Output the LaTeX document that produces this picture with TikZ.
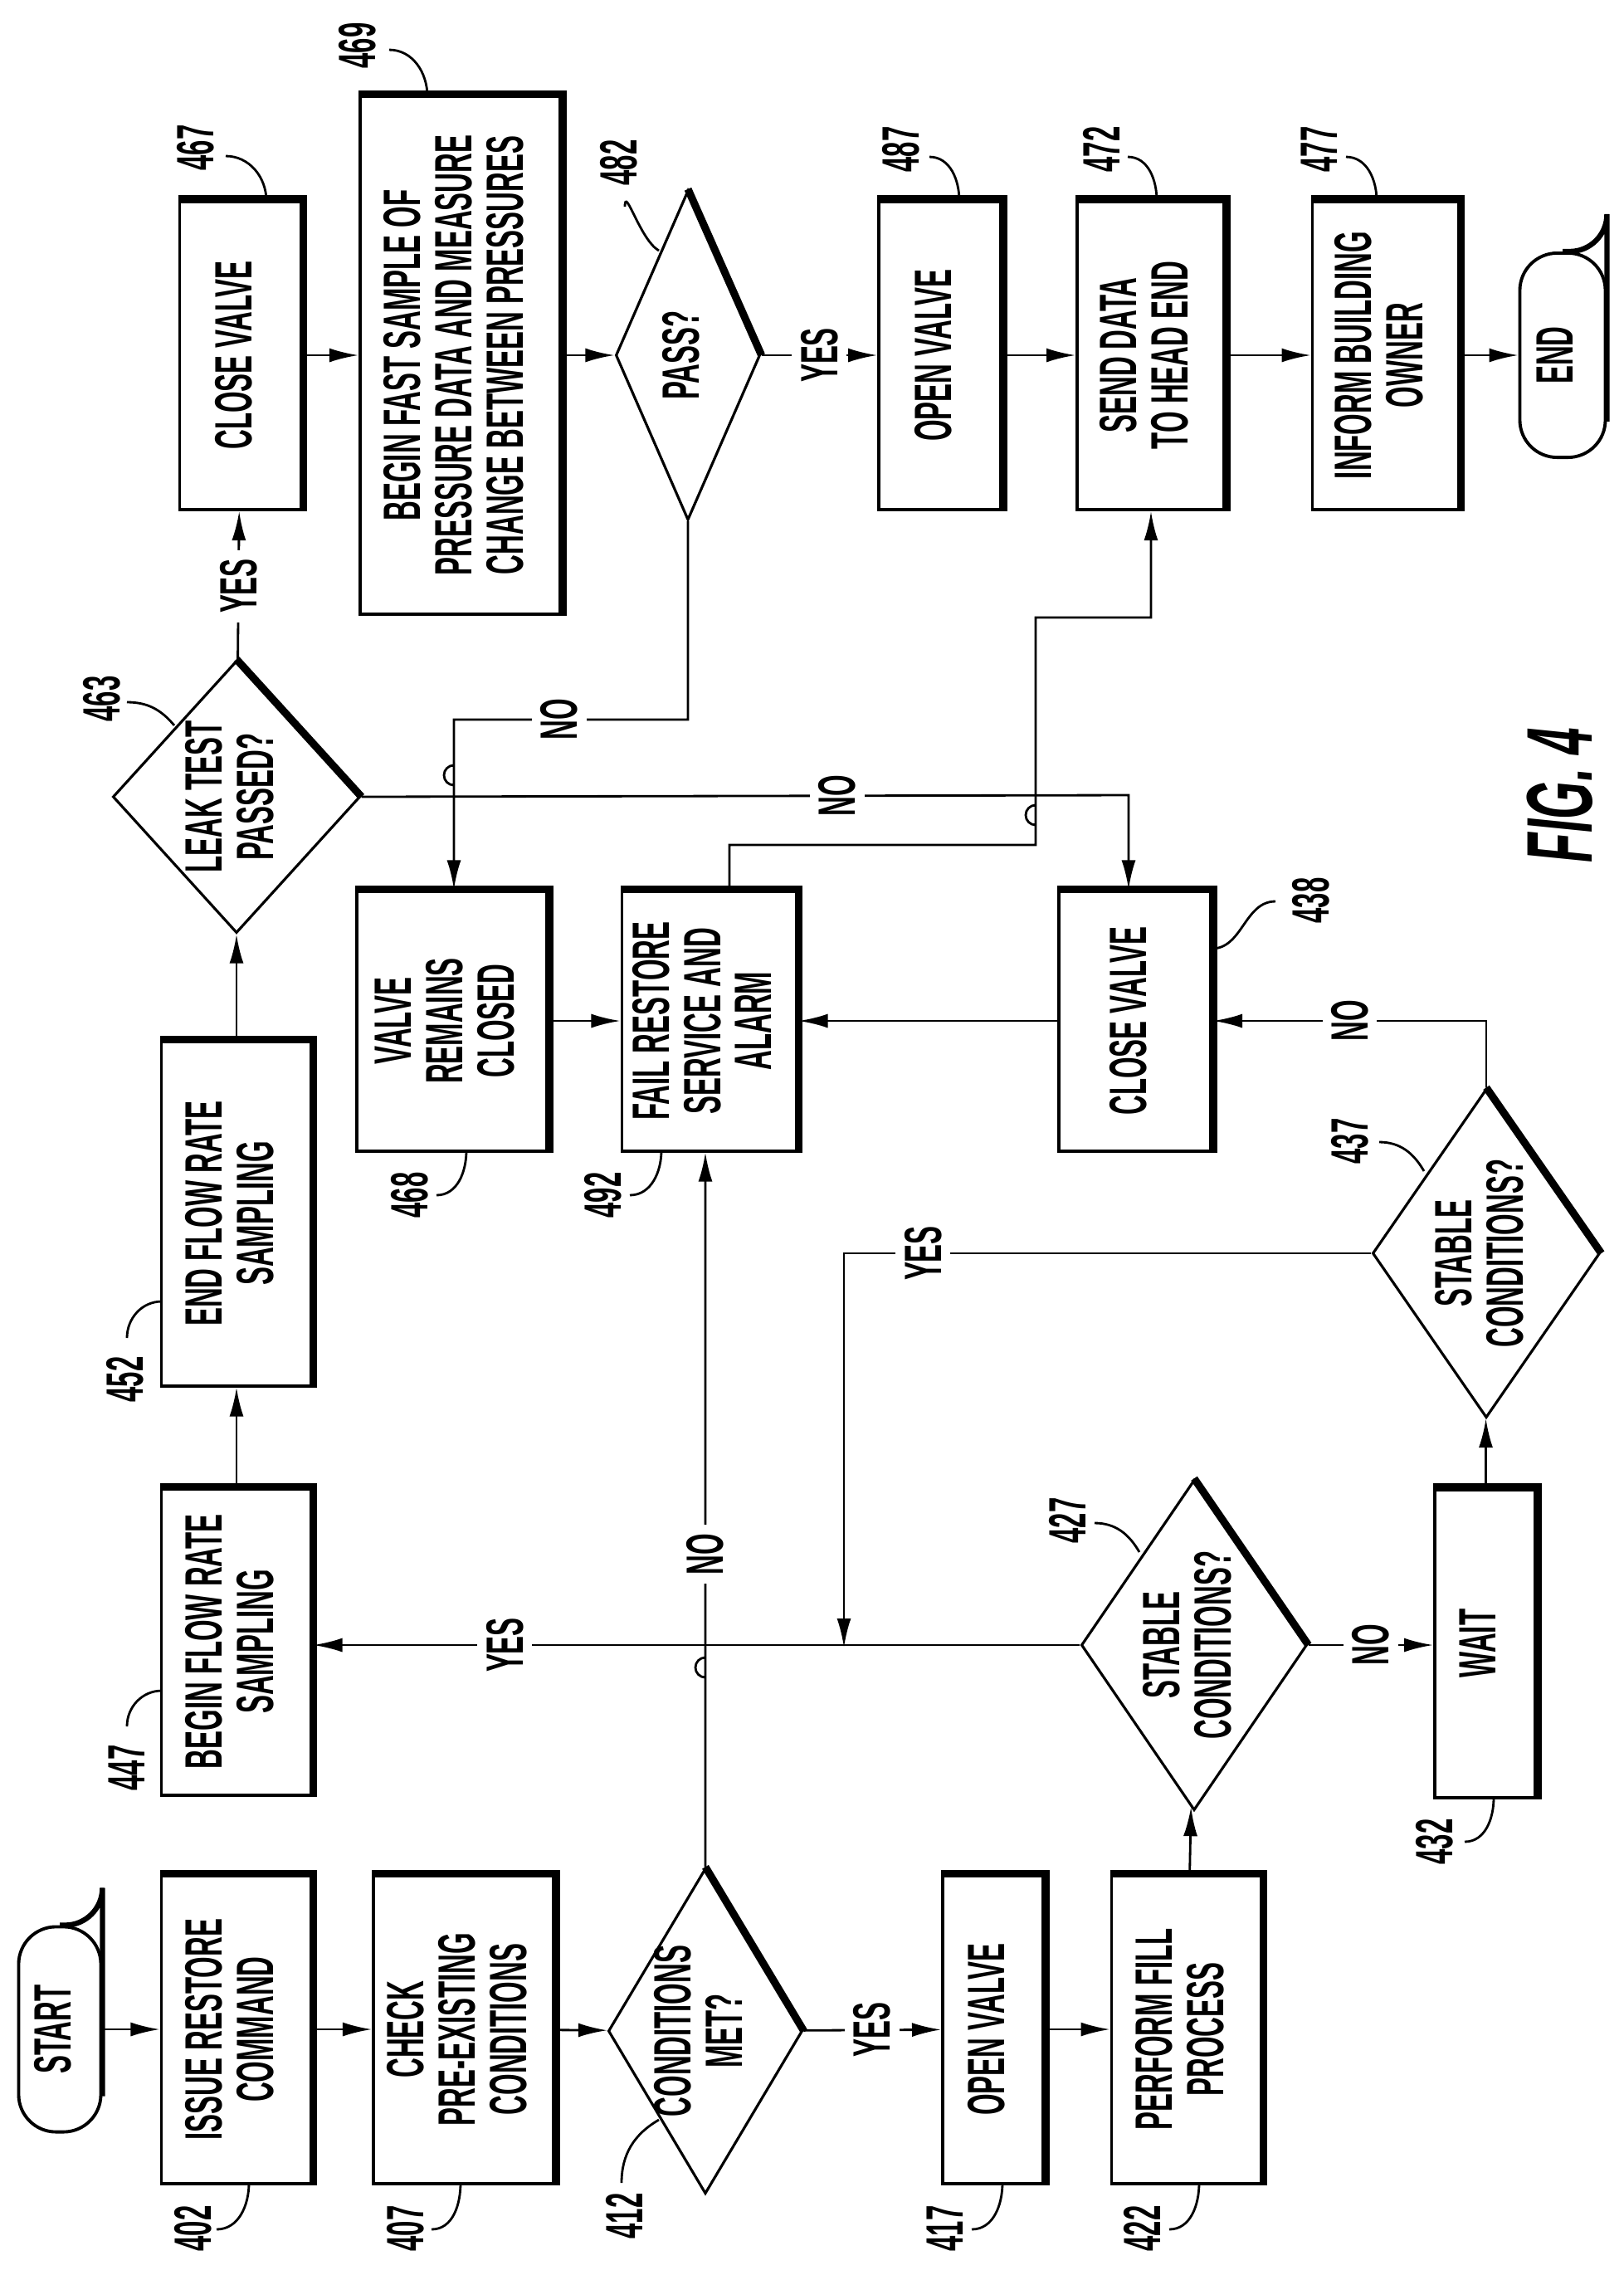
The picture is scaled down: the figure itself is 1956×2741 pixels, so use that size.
\documentclass[tikz,border=0pt]{standalone}
\usepackage{fontspec}
\setmainfont{Liberation Sans}[FakeStretch=0.52]
\usepackage{tikz}
\usetikzlibrary{shapes.geometric, arrows.meta}

\newcommand{\vtext}[1]{\rotatebox{90}{\begin{tabular}{@{}c@{}}#1\end{tabular}}}

\tikzset{
  txt/.style={font=\fontsize{18}{17}\selectfont\bfseries},
  box/.style={draw, line width=1.1pt, inner sep=0pt, txt},
  term/.style={box, rounded corners=0.45cm},
  dia/.style={draw, line width=0.9pt, diamond, inner sep=0pt},
  lbl/.style={txt, rotate=90, fill=white, inner sep=3pt},
  num/.style={txt, rotate=90, inner sep=0pt},
  flow/.style={line width=0.8pt, -{Latex[length=3.5mm,width=1.7mm]}},
  lead/.style={line width=0.8pt},
  heavy/.style={line width=2.6pt}
}

\begin{document}
\begin{tikzpicture}[x=0.01cm, y=-0.01cm]
    \useasboundingbox (0,0) rectangle (1956,2741);

    % Bottom row
    \node[term, minimum width=0.99cm, minimum height=2.47cm] (start) at (72,2445) {\vtext{START}};
    \node[box, minimum width=1.81cm, minimum height=3.71cm] (n402) at (285,2445) {\vtext{ISSUE RESTORE\\COMMAND}};
    \node[box, minimum width=2.18cm, minimum height=3.71cm] (n407) at (559,2445) {\vtext{CHECK\\PRE-EXISTING\\CONDITIONS}};
    \node[dia, minimum width=2.34cm, minimum height=3.92cm, label={[txt]center:\vtext{CONDITIONS\\MET?}}] (d412) at (850,2447) {};
    \node[box, minimum width=1.22cm, minimum height=3.71cm] (n417) at (1197,2445) {\vtext{OPEN VALVE}};
    \node[box, minimum width=1.81cm, minimum height=3.71cm] (n422) at (1430,2445) {\vtext{PERFORM FILL\\PROCESS}};
    \node[dia, minimum width=2.72cm, minimum height=3.98cm, label={[txt]center:\vtext{STABLE\\CONDITIONS?}}] (d427) at (1439,1982) {};
    \node[box, minimum width=1.22cm, minimum height=3.72cm] (n432) at (1790,1980) {\vtext{WAIT}};
    \node[dia, minimum width=2.74cm, minimum height=3.96cm, label={[txt]center:\vtext{STABLE\\CONDITIONS?}}] (d437) at (1791,1510) {};
    \node[box, minimum width=1.84cm, minimum height=3.13cm] (n438) at (1368,1230) {\vtext{CLOSE VALVE}};

    % Left column
    \node[box, minimum width=1.81cm, minimum height=3.69cm] (n447) at (285,1978) {\vtext{BEGIN FLOW RATE\\SAMPLING}};
    \node[box, minimum width=1.81cm, minimum height=4.15cm] (n452) at (285,1462) {\vtext{END FLOW RATE\\SAMPLING}};
    \node[dia, minimum width=2.98cm, minimum height=3.28cm, label={[txt]center:\vtext{LEAK TEST\\PASSED?}}] (d463) at (285,960) {};

    % Top row
    \node[box, minimum width=1.47cm, minimum height=3.72cm] (n467) at (290,428) {\vtext{CLOSE VALVE}};
    \node[box, minimum width=2.42cm, minimum height=6.24cm] (n469) at (555,428) {\vtext{BEGIN FAST SAMPLE OF\\PRESSURE DATA AND MEASURE\\CHANGE BETWEEN PRESSURES}};
    \node[dia, minimum width=1.74cm, minimum height=3.97cm, label={[txt]center:\vtext{PASS?}}] (d482) at (829,428) {};
    \node[box, minimum width=1.48cm, minimum height=3.72cm] (n487) at (1133,428) {\vtext{OPEN VALVE}};
    \node[box, minimum width=1.78cm, minimum height=3.72cm] (n472) at (1387,428) {\vtext{SEND DATA\\TO HEAD END}};
    \node[box, minimum width=1.77cm, minimum height=3.72cm] (n477) at (1670,428) {\vtext{INFORM BUILDING\\OWNER}};
    \node[term, minimum width=1.03cm, minimum height=2.46cm] (stop) at (1883,428) {\vtext{END}};

    % Middle
    \node[box, minimum width=2.30cm, minimum height=3.13cm] (n468) at (545,1230) {\vtext{VALVE\\REMAINS\\CLOSED}};
    \node[box, minimum width=2.11cm, minimum height=3.13cm] (n492) at (855,1230) {\vtext{FAIL RESTORE\\SERVICE AND\\ALARM}};

    % Shadow edges
    \foreach \n in {n402,n407,n417,n422,n432,n438,n447,n452,n467,n469,n487,n472,n477,n468,n492}
        \draw[heavy] (\n.north west) -- (\n.north east) -- (\n.south east);
    \foreach \n in {d412,d427,d437,d463,d482}
        \draw[heavy] (\n.north) -- (\n.east);
    \draw[line width=1.8pt] (start.north) -- ([xshift=-0.45cm]start.north east) arc[start angle=90, end angle=0, radius=45] -- ([yshift=0.45cm]start.south east);
    \draw[line width=1.8pt] (stop.north) -- ([xshift=-0.45cm]stop.north east) arc[start angle=90, end angle=0, radius=45] -- ([yshift=0.45cm]stop.south east);

    % Main flow
    \draw[flow] (start) -- (n402);
    \draw[flow] (n402) -- (n407);
    \draw[flow] (n407) -- (d412);
    \draw[flow] (d412) -- node[lbl] {YES} (n417);
    \draw[flow] (n417) -- (n422);
    \draw[flow] (n422) -- (d427);
    \draw[flow] (d427.east) -- node[lbl] {NO} (d427.east -| n432.west);
    \draw[flow] (n432) -- (d437);
    \draw[flow] (d437.north) |- node[lbl, pos=0.75] {NO} (n438.east);
    \coordinate (yj) at (1017,1985);
    \draw[flow] (d437.west) -- node[lbl, pos=0.85] {YES} (1017,1510) -- (yj);
    \draw[flow] (d427.west) -- node[lbl, pos=0.75] {YES} (d427.west -| n447.east);
    \draw[flow] (d412.north) -- (850,1997) arc[start angle=270, end angle=90, radius=12]
        -- node[lbl, pos=0.235] {NO} ([xshift=-0.05cm]n492.south);
    \draw[flow] (n438) -- (n492);
    \draw[flow] (n468) -- (n492);
    \draw[flow] ([xshift=0.24cm]n492.north) -- (879,1018) -- (1248,1018) -- (1248,970)
        arc[start angle=270, end angle=90, radius=12] -- (1248,744) -- (1387,744) -- (n472.south);
    \draw[flow] (n447) -- (n452);
    \draw[flow] (n452) -- (d463);
    \draw[flow] (d463) -- node[lbl] {YES} (n467);
    \draw[flow] (d463.east) -- node[lbl, pos=0.62] {NO} (1360,958) -- ([xshift=-0.08cm]n438.north);
    \draw[flow] (d482.south) -- (829,867) -- node[lbl, pos=0.55] {NO} (547,867) -- (547,946)
        arc[start angle=90, end angle=270, radius=12] -- ([xshift=0.02cm]n468.north);
    \draw[flow] (n467) -- (n469);
    \draw[flow] (n469) -- (d482);
    \draw[flow] (d482) -- node[lbl] {YES} (n487);
    \draw[flow] (n487) -- (n472);
    \draw[flow] (n472) -- (n477);
    \draw[flow] (n477) -- (stop);

    % Reference numerals
    \node[num] (r467) at (236,178) {467};  \draw[lead] (272,188) to[out=0, in=90] (321,242);
    \node[num] (r469) at (431,55) {469};   \draw[lead] (469,60) to[out=0, in=90] (515,116);
    \node[num] (r482) at (746,196) {482};  \draw[lead] (753,249) to[out=90, in=150] (794,302);
    \node[num] (r463) at (123,842) {463};  \draw[lead] (153,846) to[out=0, in=130] (210,874);
    \node[num] (r487) at (1086,180) {487}; \draw[lead] (1120,189) to[out=0, in=90] (1156,242);
    \node[num] (r472) at (1327,180) {472}; \draw[lead] (1359,189) to[out=0, in=90] (1394,242);
    \node[num] (r477) at (1590,180) {477}; \draw[lead] (1622,189) to[out=0, in=90] (1659,242);
    \node[num] (r452) at (151,1662) {452}; \draw[lead] (153,1612) to[out=90, in=180] (195,1568);
    \node[num] (r468) at (494,1440) {468}; \draw[lead] (526,1440) to[out=0, in=-90] (562,1386);
    \node[num] (r492) at (727,1440) {492}; \draw[lead] (759,1440) to[out=0, in=-90] (797,1386);
    \node[num] (r438) at (1580,1085) {438}; \draw[lead] (1537,1086) to[out=180, in=0] (1460,1143);
    \node[num] (r437) at (1627,1375) {437}; \draw[lead] (1662,1376) to[out=0, in=120] (1716,1411);
    \node[num] (r427) at (1286,1832) {427}; \draw[lead] (1319,1835) to[out=0, in=120] (1373,1870);
    \node[num] (r447) at (153,2130) {447}; \draw[lead] (153,2080) to[out=90, in=180] (195,2037);
    \node[num] (r402) at (233,2685) {402}; \draw[lead] (261,2686) to[out=0, in=-90] (300,2630);
    \node[num] (r407) at (489,2685) {407}; \draw[lead] (520,2686) to[out=0, in=-90] (555,2630);
    \node[num] (r412) at (752,2670) {412}; \draw[lead] (749,2630) to[out=90, in=210] (794,2554);
    \node[num] (r417) at (1139,2685) {417}; \draw[lead] (1171,2686) to[out=0, in=-90] (1208,2630);
    \node[num] (r422) at (1376,2685) {422}; \draw[lead] (1409,2686) to[out=0, in=-90] (1445,2630);
    \node[num] (r432) at (1729,2219) {432}; \draw[lead] (1765,2219) to[out=0, in=-90] (1800,2166);

    \node[rotate=90, font=\fontsize{32}{32}\selectfont\bfseries\itshape] (fig) at (1880,958) {FIG. 4};
\end{tikzpicture}
\end{document}
